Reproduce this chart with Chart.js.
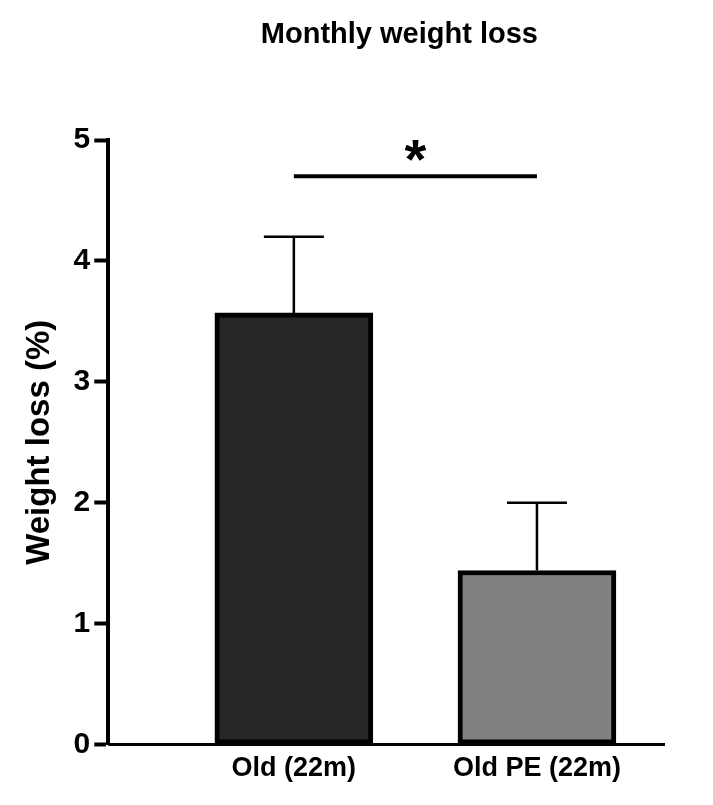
<!DOCTYPE html>
<html><head><meta charset="utf-8">
<script src="https://cdn.jsdelivr.net/npm/chart.js@4/dist/chart.umd.min.js"></script>
<style>body{margin:0;background:#fff}#w{width:713px;height:805px}</style></head>
<body><div id="w"><canvas id="c"></canvas></div>
<script>
const categories = ["Old (22m)", "Old PE (22m)"];
const positions = [1, 2.31];
const means = [3.57, 1.44];
const errors = [0.63, 0.56];
const barColors = ["#262626", "#808080"];
const yTicks = [0, 1, 2, 3, 4, 5];
const sigLevel = 4.7;
const sigText = "*";

const extras = {
  id: 'extras',
  afterDatasetsDraw(chart) {
    const ctx = chart.ctx, x = chart.scales.x, y = chart.scales.y;
    ctx.save();
    ctx.strokeStyle = '#000'; ctx.lineWidth = 2.5;
    positions.forEach((p, i) => {
      const cx = x.getPixelForValue(p);
      const yb = y.getPixelForValue(means[i]);
      const yt = y.getPixelForValue(means[i] + errors[i]);
      ctx.beginPath(); ctx.moveTo(cx, yb); ctx.lineTo(cx, yt);
      ctx.moveTo(cx - 30, yt); ctx.lineTo(cx + 30, yt); ctx.stroke();
    });
    const sy = y.getPixelForValue(sigLevel);
    ctx.lineWidth = 4;
    ctx.beginPath();
    ctx.moveTo(x.getPixelForValue(positions[0]), sy);
    ctx.lineTo(x.getPixelForValue(positions[1]), sy); ctx.stroke();
    ctx.fillStyle = '#000'; ctx.font = 'bold 56px Arial, Liberation Sans';
    ctx.textAlign = 'center'; ctx.textBaseline = 'alphabetic';
    ctx.fillText(sigText, (x.getPixelForValue(positions[0]) + x.getPixelForValue(positions[1])) / 2, sy + 2);
    const y0 = y.getPixelForValue(0);
    ctx.lineWidth = 3;
    ctx.beginPath(); ctx.moveTo(x.left, y0); ctx.lineTo(x.right, y0); ctx.stroke();
    // title
    ctx.font = 'bold 29px Arial, Liberation Sans';
    ctx.textBaseline = 'middle';
    ctx.fillText('Monthly weight loss', (x.getPixelForValue(positions[0]) + x.getPixelForValue(positions[1])) / 2 - 16, 35);
    ctx.restore();
  }
};

new Chart(document.getElementById('c'), {
  type: 'bar',
  data: { datasets: [{
    data: positions.map((p, i) => ({ x: p, y: means[i] })),
    backgroundColor: barColors, borderColor: '#000', borderWidth: 5,
    borderSkipped: false, barThickness: 158
  }]},
  options: {
    responsive: true, maintainAspectRatio: false, animation: false,
    layout: { padding: { top: 140, right: 48, bottom: 12, left: 16 } },
    plugins: { legend: { display: false }, tooltip: { enabled: false } },
    scales: {
      x: { type: 'linear', min: 0, max: 3, offset: false,
        afterBuildTicks: s => { s.ticks = positions.map(v => ({ value: v })); },
        ticks: { color: '#000', font: { family: 'Arial, Liberation Sans', size: 27, weight: 'bold' },
          callback: v => categories[positions.indexOf(v)], autoSkip: false, maxRotation: 0, padding: 8 },
        grid: { display: false, drawTicks: false }, border: { display: false } },
      y: { min: 0, max: 5,
        afterBuildTicks: s => { s.ticks = yTicks.map(v => ({ value: v })); },
        ticks: { color: '#000', font: { family: 'Arial, Liberation Sans', size: 30, weight: 'bold' }, padding: 4 },
        grid: { display: true, drawOnChartArea: false, tickLength: 14, tickWidth: 4, color: '#000' },
        border: { display: true, color: '#000', width: 4 },
        title: { display: true, text: 'Weight loss (%)', color: '#000',
          font: { family: 'Arial, Liberation Sans', size: 33, weight: 'bold' }, padding: { bottom: 10 } } }
    }
  },
  plugins: [extras]
});
</script></body></html>
